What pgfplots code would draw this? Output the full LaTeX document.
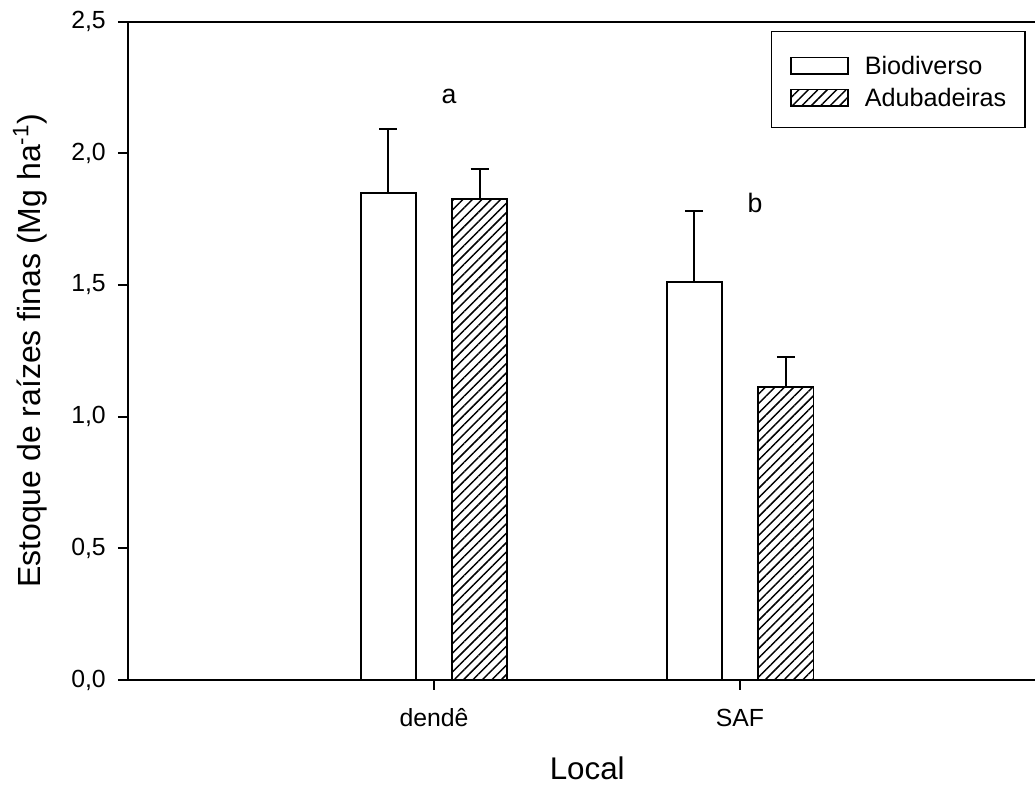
\documentclass[border=0pt]{standalone}
\usepackage{fontspec}
\setmainfont{Liberation Sans}
\usepackage{pgfplots}
\pgfplotsset{compat=1.18}
\usetikzlibrary{patterns.meta}

\pgfplotsset{
  mylegimg/.style={legend image code/.code={\draw[##1, line width=1.2pt] (0pt,-8pt) rectangle (42.75pt,4.5pt);}},
}

\begin{document}
\begin{tikzpicture}
\begin{axis}[
  name=ax,
  at={(0,0)}, anchor=south west,
  scale only axis,
  width=680.25pt, height=493.7pt,
  xmin=0, xmax=2.964,
  ymin=0, ymax=2.5,
  axis x line*=box, axis y line*=left,
  axis line style={line width=1.5pt, black},
  xtick={1,2}, xticklabels={dendê,SAF},
  ytick={0,0.5,1,1.5,2,2.5},
  xtick pos=bottom, ytick pos=left,
  tick align=outside,
  major tick length=7.5pt,
  tick style={line width=1.4pt, black},
  /pgf/number format/.cd, fixed, fixed zerofill, precision=1, use comma, assume math mode=true,
  /pgfplots/.cd,
  tick label style={font=\fontsize{18.6}{22}\selectfont},
  xticklabel style={anchor=base, inner sep=0pt, yshift=-27pt},
  yticklabel style={anchor=east, inner sep=0pt, xshift=-9pt},
  xlabel={Local},
  ylabel={Estoque de raízes finas (Mg ha\textsuperscript{-1})},
  every axis x label/.style={at={(axis description cs:0.5063,-0.1519)}, anchor=base, font=\fontsize{23.5}{28}\selectfont},
  every axis y label/.style={at={(axis description cs:-0.108,0.5)}, rotate=90, anchor=center, font=\fontsize{24}{28}\selectfont},
  legend style={draw=black, line width=1.2pt, font=\fontsize{18.9}{22}\selectfont,
    at={(0.9898,0.9863)}, anchor=north east,
    inner xsep=14pt, inner ysep=14pt, row sep=4pt,
    nodes={inner sep=0pt, text height=18pt, text depth=2pt}},
  legend cell align=left,
  clip=false,
]
\addplot[ybar, bar width=0.18, bar shift=0pt, draw=black, fill=white, line width=1.4pt, mylegimg,
  error bars/.cd, y dir=plus, y explicit,
  error bar style={line width=1.4pt, black},
  error mark options={rotate=90, mark size=6.75pt, line width=1.4pt, black}]
  coordinates {(0.851,1.848) +- (0,0.245) (1.851,1.513) +- (0,0.268)};
\addlegendentry{\hspace{12pt}Biodiverso}
\addplot[ybar, bar width=0.18, bar shift=0pt, draw=black, line width=1.4pt,
  pattern={Lines[angle=45, distance=5pt, line width=1.1pt]}, pattern color=black, mylegimg,
  error bars/.cd, y dir=plus, y explicit,
  error bar style={line width=1.4pt, black},
  error mark options={rotate=90, mark size=6.75pt, line width=1.4pt, black}]
  coordinates {(1.149,1.826) +- (0,0.114) (2.150,1.112) +- (0,0.116)};
\addlegendentry{\hspace{12pt}Adubadeiras}
\node[anchor=base, font=\fontsize{20}{24}\selectfont] at (axis cs:1.049,2.188) {a};
\node[anchor=base, font=\fontsize{20}{24}\selectfont] at (axis cs:2.049,1.776) {b};
\end{axis}
\pgfresetboundingbox
\path[use as bounding box] ([shift={(-96pt,-78.75pt)}]ax.south west) rectangle ([shift={(0pt,16.3pt)}]ax.north east);
\end{tikzpicture}
\end{document}
